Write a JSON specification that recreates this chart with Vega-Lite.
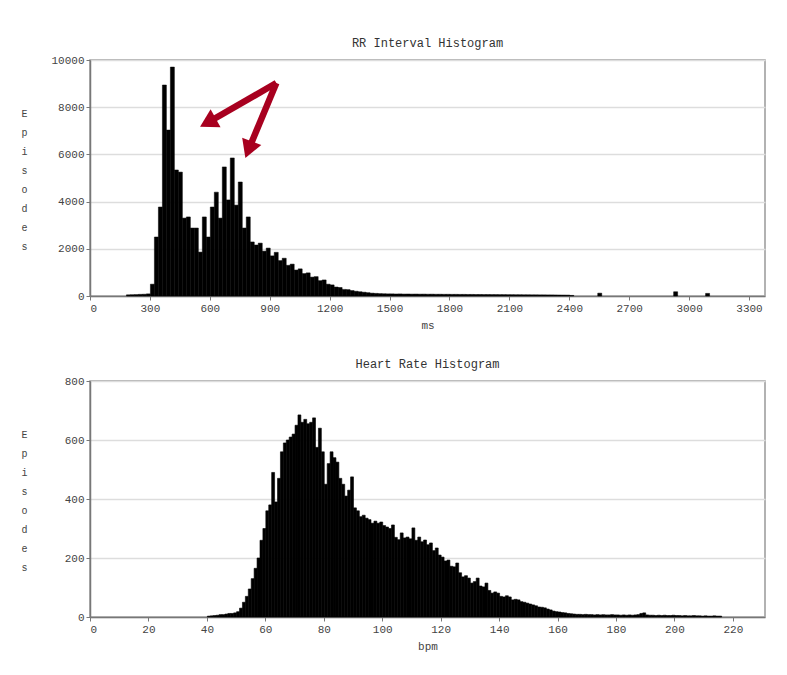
{
  "$schema": "https://vega.github.io/schema/vega-lite/v6.json",
  "background": "white",
  "padding": {"left": 20, "top": 36, "right": 18, "bottom": 10},
  "config": {
    "font": "Liberation Mono",
    "view": {"stroke": "#999999", "strokeWidth": 1.5},
    "axis": {
      "labelFont": "Liberation Mono", "labelFontSize": 11, "labelColor": "#444444",
      "titleFont": "Liberation Mono", "titleFontWeight": "normal", "titleColor": "#444444", "titleFontSize": 11,
      "gridColor": "#dddddd", "gridWidth": 1.5, "domainColor": "#777777", "domainWidth": 1.5, "tickColor": "#777777", "tickSize": 4,
      "format": "d"
    },
    "title": {"font": "Liberation Mono", "fontSize": 12, "fontWeight": "normal", "color": "#333333", "offset": 4},
    "concat": {"spacing": 26}
  },
  "vconcat": [
    {
      "title": "RR Interval Histogram",
      "width": 675,
      "height": 236,
      "layer": [
        {
          "data": {"values": [
            {"ms":180,"ms_end":200,"episodes":50},{"ms":200,"ms_end":220,"episodes":55},{"ms":220,"ms_end":240,"episodes":60},
            {"ms":240,"ms_end":260,"episodes":70},{"ms":260,"ms_end":280,"episodes":75},{"ms":280,"ms_end":300,"episodes":90},
            {"ms":300,"ms_end":320,"episodes":500},{"ms":320,"ms_end":340,"episodes":2500},{"ms":340,"ms_end":360,"episodes":3770},
            {"ms":360,"ms_end":380,"episodes":8940},{"ms":380,"ms_end":400,"episodes":7030},{"ms":400,"ms_end":420,"episodes":9700},
            {"ms":420,"ms_end":440,"episodes":5340},{"ms":440,"ms_end":460,"episodes":5250},{"ms":460,"ms_end":480,"episodes":3300},
            {"ms":480,"ms_end":500,"episodes":3350},{"ms":500,"ms_end":520,"episodes":2880},{"ms":520,"ms_end":540,"episodes":2880},
            {"ms":540,"ms_end":560,"episodes":1860},{"ms":560,"ms_end":580,"episodes":3350},{"ms":580,"ms_end":600,"episodes":2500},
            {"ms":600,"ms_end":620,"episodes":3770},{"ms":620,"ms_end":640,"episodes":4400},{"ms":640,"ms_end":660,"episodes":3300},
            {"ms":660,"ms_end":680,"episodes":5470},{"ms":680,"ms_end":700,"episodes":4070},{"ms":700,"ms_end":720,"episodes":5850},
            {"ms":720,"ms_end":740,"episodes":3850},{"ms":740,"ms_end":760,"episodes":4830},{"ms":760,"ms_end":780,"episodes":2880},
            {"ms":780,"ms_end":800,"episodes":3350},{"ms":800,"ms_end":820,"episodes":2290},{"ms":820,"ms_end":840,"episodes":2160},
            {"ms":840,"ms_end":860,"episodes":2240},{"ms":860,"ms_end":880,"episodes":1900},{"ms":880,"ms_end":900,"episodes":2030},
            {"ms":900,"ms_end":920,"episodes":1700},{"ms":920,"ms_end":940,"episodes":1850},{"ms":940,"ms_end":960,"episodes":1500},
            {"ms":960,"ms_end":980,"episodes":1600},{"ms":980,"ms_end":1000,"episodes":1300},{"ms":1000,"ms_end":1020,"episodes":1350},
            {"ms":1020,"ms_end":1040,"episodes":1100},{"ms":1040,"ms_end":1060,"episodes":1150},{"ms":1060,"ms_end":1080,"episodes":950},
            {"ms":1080,"ms_end":1100,"episodes":980},{"ms":1100,"ms_end":1120,"episodes":800},{"ms":1120,"ms_end":1140,"episodes":820},
            {"ms":1140,"ms_end":1160,"episodes":650},{"ms":1160,"ms_end":1180,"episodes":680},{"ms":1180,"ms_end":1200,"episodes":500},
            {"ms":1200,"ms_end":1220,"episodes":470},{"ms":1220,"ms_end":1240,"episodes":380},{"ms":1240,"ms_end":1260,"episodes":360},
            {"ms":1260,"ms_end":1280,"episodes":280},{"ms":1280,"ms_end":1300,"episodes":270},{"ms":1300,"ms_end":1320,"episodes":230},
            {"ms":1320,"ms_end":1340,"episodes":200},{"ms":1340,"ms_end":1360,"episodes":180},{"ms":1360,"ms_end":1380,"episodes":160},
            {"ms":1380,"ms_end":1400,"episodes":140},{"ms":1400,"ms_end":1420,"episodes":120},{"ms":1420,"ms_end":1440,"episodes":110},
            {"ms":1440,"ms_end":1460,"episodes":100},{"ms":1460,"ms_end":1480,"episodes":95},{"ms":1480,"ms_end":1500,"episodes":90},
            {"ms":1500,"ms_end":1520,"episodes":90},{"ms":1520,"ms_end":1540,"episodes":86},{"ms":1540,"ms_end":1560,"episodes":88},
            {"ms":1560,"ms_end":1580,"episodes":82},{"ms":1580,"ms_end":1600,"episodes":84},{"ms":1600,"ms_end":1620,"episodes":80},
            {"ms":1620,"ms_end":1640,"episodes":82},{"ms":1640,"ms_end":1660,"episodes":78},{"ms":1660,"ms_end":1680,"episodes":79},
            {"ms":1680,"ms_end":1700,"episodes":75},{"ms":1700,"ms_end":1720,"episodes":77},{"ms":1720,"ms_end":1740,"episodes":73},
            {"ms":1740,"ms_end":1760,"episodes":74},{"ms":1760,"ms_end":1780,"episodes":71},{"ms":1780,"ms_end":1800,"episodes":72},
            {"ms":1800,"ms_end":1820,"episodes":69},{"ms":1820,"ms_end":1840,"episodes":70},{"ms":1840,"ms_end":1860,"episodes":67},
            {"ms":1860,"ms_end":1880,"episodes":68},{"ms":1880,"ms_end":1900,"episodes":65},{"ms":1900,"ms_end":1920,"episodes":66},
            {"ms":1920,"ms_end":1940,"episodes":63},{"ms":1940,"ms_end":1960,"episodes":64},{"ms":1960,"ms_end":1980,"episodes":61},
            {"ms":1980,"ms_end":2000,"episodes":62},{"ms":2000,"ms_end":2020,"episodes":60},{"ms":2020,"ms_end":2040,"episodes":60},
            {"ms":2040,"ms_end":2060,"episodes":58},{"ms":2060,"ms_end":2080,"episodes":58},{"ms":2080,"ms_end":2100,"episodes":56},
            {"ms":2100,"ms_end":2120,"episodes":56},{"ms":2120,"ms_end":2140,"episodes":54},{"ms":2140,"ms_end":2160,"episodes":54},
            {"ms":2160,"ms_end":2180,"episodes":52},{"ms":2180,"ms_end":2200,"episodes":52},{"ms":2200,"ms_end":2220,"episodes":50},
            {"ms":2220,"ms_end":2240,"episodes":50},{"ms":2240,"ms_end":2260,"episodes":48},{"ms":2260,"ms_end":2280,"episodes":48},
            {"ms":2280,"ms_end":2300,"episodes":46},{"ms":2300,"ms_end":2320,"episodes":46},{"ms":2320,"ms_end":2340,"episodes":44},
            {"ms":2340,"ms_end":2360,"episodes":42},{"ms":2360,"ms_end":2380,"episodes":40},{"ms":2380,"ms_end":2400,"episodes":38},
            {"ms":2400,"ms_end":2420,"episodes":25},{"ms":2540,"ms_end":2560,"episodes":120},{"ms":2920,"ms_end":2940,"episodes":180},
            {"ms":3080,"ms_end":3100,"episodes":110}
          ]},
          "mark": {"type": "bar", "color": "#000000", "stroke": "#000000", "strokeWidth": 0.5, "binSpacing": 0},
          "encoding": {
            "x": {"field": "ms", "type": "quantitative", "bin": {"binned": true, "step": 20},
                  "scale": {"domain": [0, 3380], "nice": false},
                  "axis": {"values": [0,300,600,900,1200,1500,1800,2100,2400,2700,3000,3300], "title": "ms", "titlePadding": 6}},
            "x2": {"field": "ms_end"},
            "y": {"field": "episodes", "type": "quantitative",
                  "scale": {"domain": [0, 10000], "nice": false},
                  "axis": {"values": [0,2000,4000,6000,8000,10000],
                           "title": ["E","p","i","s","o","d","e","s"], "titleAngle": 0, "titleFontSize": 10,
                           "titleLineHeight": 19, "titleX": -66, "titleY": 53, "titleAlign": "center", "titleBaseline": "middle"}}
          }
        },
        {
          "data": {"values": [{"ms": 933, "episodes": 9025, "ms_end": 590, "episodes_end": 7350}]},
          "mark": {"type": "rule", "color": "#a8001f", "strokeWidth": 6.5},
          "encoding": {
            "x": {"field": "ms", "type": "quantitative"},
            "y": {"field": "episodes", "type": "quantitative"},
            "x2": {"field": "ms_end"},
            "y2": {"field": "episodes_end"}
          }
        },
        {
          "data": {"values": [{"ms": 933, "episodes": 9025, "ms_end": 794, "episodes_end": 6200}]},
          "mark": {"type": "rule", "color": "#a8001f", "strokeWidth": 6.5},
          "encoding": {
            "x": {"field": "ms", "type": "quantitative"},
            "y": {"field": "episodes", "type": "quantitative"},
            "x2": {"field": "ms_end"},
            "y2": {"field": "episodes_end"}
          }
        },
        {
          "data": {"values": [{"ms": 590, "episodes": 7350}]},
          "mark": {"type": "point", "shape": "triangle-up", "filled": true, "color": "#a8001f", "opacity": 1, "size": 420, "angle": 241},
          "encoding": {
            "x": {"field": "ms", "type": "quantitative"},
            "y": {"field": "episodes", "type": "quantitative"}
          }
        },
        {
          "data": {"values": [{"ms": 794, "episodes": 6200}]},
          "mark": {"type": "point", "shape": "triangle-up", "filled": true, "color": "#a8001f", "opacity": 1, "size": 420, "angle": 201},
          "encoding": {
            "x": {"field": "ms", "type": "quantitative"},
            "y": {"field": "episodes", "type": "quantitative"}
          }
        }
      ]
    },
    {
      "title": "Heart Rate Histogram",
      "width": 675,
      "height": 236,
      "data": {"values": [
        {"bpm":40,"episodes":3},{"bpm":41,"episodes":4},{"bpm":42,"episodes":5},{"bpm":43,"episodes":6},{"bpm":44,"episodes":8},
        {"bpm":45,"episodes":8},{"bpm":46,"episodes":10},{"bpm":47,"episodes":12},{"bpm":48,"episodes":12},{"bpm":49,"episodes":14},
        {"bpm":50,"episodes":18},{"bpm":51,"episodes":30},{"bpm":52,"episodes":50},{"bpm":53,"episodes":70},{"bpm":54,"episodes":95},
        {"bpm":55,"episodes":130},{"bpm":56,"episodes":165},{"bpm":57,"episodes":200},{"bpm":58,"episodes":260},{"bpm":59,"episodes":300},
        {"bpm":60,"episodes":360},{"bpm":61,"episodes":380},{"bpm":62,"episodes":490},{"bpm":63,"episodes":390},{"bpm":64,"episodes":470},
        {"bpm":65,"episodes":560},{"bpm":66,"episodes":590},{"bpm":67,"episodes":600},{"bpm":68,"episodes":610},{"bpm":69,"episodes":620},
        {"bpm":70,"episodes":650},{"bpm":71,"episodes":685},{"bpm":72,"episodes":660},{"bpm":73,"episodes":670},{"bpm":74,"episodes":655},
        {"bpm":75,"episodes":660},{"bpm":76,"episodes":675},{"bpm":77,"episodes":575},{"bpm":78,"episodes":640},{"bpm":79,"episodes":560},
        {"bpm":80,"episodes":450},{"bpm":81,"episodes":520},{"bpm":82,"episodes":560},{"bpm":83,"episodes":540},{"bpm":84,"episodes":525},
        {"bpm":85,"episodes":470},{"bpm":86,"episodes":450},{"bpm":87,"episodes":410},{"bpm":88,"episodes":430},{"bpm":89,"episodes":475},
        {"bpm":90,"episodes":370},{"bpm":91,"episodes":360},{"bpm":92,"episodes":340},{"bpm":93,"episodes":345},{"bpm":94,"episodes":335},
        {"bpm":95,"episodes":330},{"bpm":96,"episodes":318},{"bpm":97,"episodes":325},{"bpm":98,"episodes":318},{"bpm":99,"episodes":322},
        {"bpm":100,"episodes":310},{"bpm":101,"episodes":305},{"bpm":102,"episodes":300},{"bpm":103,"episodes":312},{"bpm":104,"episodes":270},
        {"bpm":105,"episodes":262},{"bpm":106,"episodes":285},{"bpm":107,"episodes":268},{"bpm":108,"episodes":271},{"bpm":109,"episodes":265},
        {"bpm":110,"episodes":302},{"bpm":111,"episodes":260},{"bpm":112,"episodes":271},{"bpm":113,"episodes":255},{"bpm":114,"episodes":261},
        {"bpm":115,"episodes":245},{"bpm":116,"episodes":251},{"bpm":117,"episodes":225},{"bpm":118,"episodes":234},{"bpm":119,"episodes":210},
        {"bpm":120,"episodes":203},{"bpm":121,"episodes":190},{"bpm":122,"episodes":193},{"bpm":123,"episodes":172},{"bpm":124,"episodes":170},
        {"bpm":125,"episodes":183},{"bpm":126,"episodes":150},{"bpm":127,"episodes":136},{"bpm":128,"episodes":140},{"bpm":129,"episodes":132},
        {"bpm":130,"episodes":115},{"bpm":131,"episodes":120},{"bpm":132,"episodes":132},{"bpm":133,"episodes":105},{"bpm":134,"episodes":102},
        {"bpm":135,"episodes":115},{"bpm":136,"episodes":90},{"bpm":137,"episodes":81},{"bpm":138,"episodes":85},{"bpm":139,"episodes":81},
        {"bpm":140,"episodes":70},{"bpm":141,"episodes":68},{"bpm":142,"episodes":72},{"bpm":143,"episodes":68},{"bpm":144,"episodes":58},
        {"bpm":145,"episodes":60},{"bpm":146,"episodes":58},{"bpm":147,"episodes":52},{"bpm":148,"episodes":50},{"bpm":149,"episodes":47},
        {"bpm":150,"episodes":44},{"bpm":151,"episodes":41},{"bpm":152,"episodes":38},{"bpm":153,"episodes":34},{"bpm":154,"episodes":33},
        {"bpm":155,"episodes":31},{"bpm":156,"episodes":27},{"bpm":157,"episodes":24},{"bpm":158,"episodes":20},{"bpm":159,"episodes":18},
        {"bpm":160,"episodes":17},{"bpm":161,"episodes":15},{"bpm":162,"episodes":14},{"bpm":163,"episodes":12},{"bpm":164,"episodes":11},
        {"bpm":165,"episodes":10},{"bpm":166,"episodes":9},{"bpm":167,"episodes":9},{"bpm":168,"episodes":8},{"bpm":169,"episodes":9},
        {"bpm":170,"episodes":8},{"bpm":171,"episodes":8},{"bpm":172,"episodes":7},{"bpm":173,"episodes":8},{"bpm":174,"episodes":7},
        {"bpm":175,"episodes":8},{"bpm":176,"episodes":7},{"bpm":177,"episodes":7},{"bpm":178,"episodes":8},{"bpm":179,"episodes":7},
        {"bpm":180,"episodes":7},{"bpm":181,"episodes":6},{"bpm":182,"episodes":7},{"bpm":183,"episodes":6},{"bpm":184,"episodes":7},
        {"bpm":185,"episodes":6},{"bpm":186,"episodes":7},{"bpm":187,"episodes":8},{"bpm":188,"episodes":12},{"bpm":189,"episodes":14},
        {"bpm":190,"episodes":7},{"bpm":191,"episodes":6},{"bpm":192,"episodes":6},{"bpm":193,"episodes":5},{"bpm":194,"episodes":6},
        {"bpm":195,"episodes":5},{"bpm":196,"episodes":6},{"bpm":197,"episodes":5},{"bpm":198,"episodes":5},{"bpm":199,"episodes":6},
        {"bpm":200,"episodes":5},{"bpm":201,"episodes":5},{"bpm":202,"episodes":4},{"bpm":203,"episodes":5},{"bpm":204,"episodes":4},
        {"bpm":205,"episodes":4},{"bpm":206,"episodes":5},{"bpm":207,"episodes":4},{"bpm":208,"episodes":4},{"bpm":209,"episodes":3},
        {"bpm":210,"episodes":4},{"bpm":211,"episodes":3},{"bpm":212,"episodes":3},{"bpm":213,"episodes":4},{"bpm":214,"episodes":3},
        {"bpm":215,"episodes":3}
      ]},
      "mark": {"type": "bar", "color": "#000000", "binSpacing": 0, "stroke": "#000000", "strokeWidth": 0.6},
      "encoding": {
        "x": {"field": "bpm", "type": "quantitative", "bin": {"binned": true, "step": 1},
              "scale": {"domain": [0, 231], "nice": false},
              "axis": {"values": [0,20,40,60,80,100,120,140,160,180,200,220], "title": "bpm", "titlePadding": 6}},
        "y": {"field": "episodes", "type": "quantitative",
              "scale": {"domain": [0, 800], "nice": false},
              "axis": {"values": [0,200,400,600,800],
                       "title": ["E","p","i","s","o","d","e","s"], "titleAngle": 0, "titleFontSize": 10,
                       "titleLineHeight": 19, "titleX": -66, "titleY": 53, "titleAlign": "center", "titleBaseline": "middle"}}
      }
    }
  ]
}
